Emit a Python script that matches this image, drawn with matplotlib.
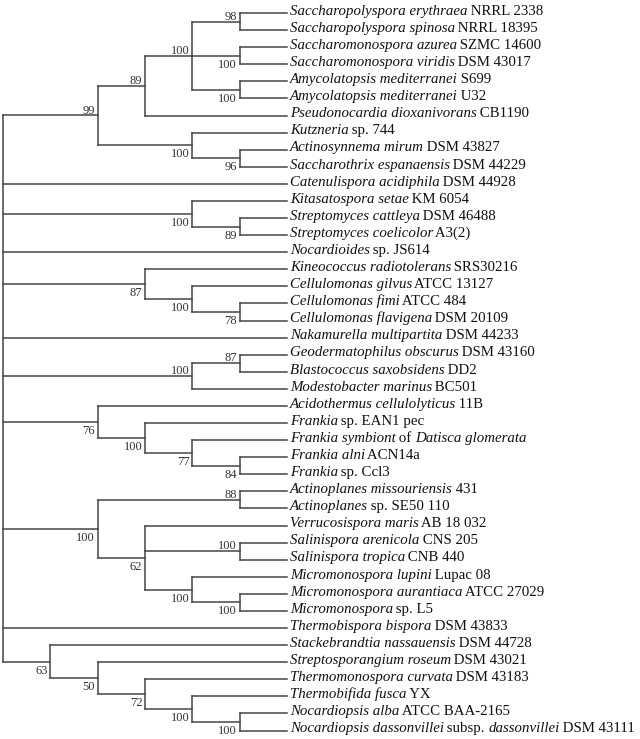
import matplotlib
matplotlib.use("Agg")
import matplotlib.pyplot as plt
from matplotlib.collections import LineCollection

# ---------------- data ----------------
# Leaf labels; text between *...* is italic
leaf_labels = [
    "*Saccharopolyspora erythraea* NRRL 2338",
    "*Saccharopolyspora spinosa* NRRL 18395",
    "*Saccharomonospora azurea* SZMC 14600",
    "*Saccharomonospora viridis* DSM 43017",
    "*Amycolatopsis mediterranei* S699",
    "*Amycolatopsis mediterranei* U32",
    "*Pseudonocardia dioxanivorans* CB1190",
    "*Kutzneria* sp. 744",
    "*Actinosynnema mirum* DSM 43827",
    "*Saccharothrix espanaensis* DSM 44229",
    "*Catenulispora acidiphila* DSM 44928",
    "*Kitasatospora setae* KM 6054",
    "*Streptomyces cattleya* DSM 46488",
    "*Streptomyces coelicolor* A3(2)",
    "*Nocardioides* sp. JS614",
    "*Kineococcus radiotolerans* SRS30216",
    "*Cellulomonas gilvus* ATCC 13127",
    "*Cellulomonas fimi* ATCC 484",
    "*Cellulomonas flavigena* DSM 20109",
    "*Nakamurella multipartita* DSM 44233",
    "*Geodermatophilus obscurus* DSM 43160",
    "*Blastococcus saxobsidens* DD2",
    "*Modestobacter marinus* BC501",
    "*Acidothermus cellulolyticus* 11B",
    "*Frankia* sp. EAN1 pec",
    "*Frankia symbiont* of *Datisca glomerata*",
    "*Frankia alni* ACN14a",
    "*Frankia* sp. Ccl3",
    "*Actinoplanes missouriensis* 431",
    "*Actinoplanes* sp. SE50 110",
    "*Verrucosispora maris* AB 18 032",
    "*Salinispora arenicola* CNS 205",
    "*Salinispora tropica* CNB 440",
    "*Micromonospora lupini* Lupac 08",
    "*Micromonospora aurantiaca* ATCC 27029",
    "*Micromonospora* sp. L5",
    "*Thermobispora bispora* DSM 43833",
    "*Stackebrandtia nassauensis* DSM 44728",
    "*Streptosporangium roseum* DSM 43021",
    "*Thermomonospora curvata* DSM 43183",
    "*Thermobifida fusca* YX",
    "*Nocardiopsis alba* ATCC BAA-2165",
    "*Nocardiopsis dassonvillei* subsp. *dassonvillei* DSM 43111",
]

# Topology (leaf indices) with bootstrap support values, Newick format
tree_newick = (
    "(((((0,1)98,(2,3)100,(4,5)100)100,6)89,(7,(8,9)96)100)99,10,"
    "(11,(12,13)89)100,14,(15,(16,(17,18)78)100)87,19,((20,21)87,22)100,"
    "(23,(24,(25,(26,27)84)77)100)76,"
    "((28,29)88,(30,(31,32)100,(33,(34,35)100)100)62)100,36,"
    "(37,(38,(39,(40,(41,42)100)100)72)50)63);"
)

# ---------------- layout / style ----------------
ABOVE_NODES = {0, 3, 4, 7, 13, 14, 19, 20}  # postorder index of nodes whose support sits above branch
X_TIP, X_ROOT = 287.0, 3.0
Y_FIRST, Y_LAST = 13.0, 730.5
LINE_COLOR = "#454545"
LW = 1.1
SERIF = ["Liberation Serif", "DejaVu Serif"]
LEAF_FS = 10.75
SUP_FS = 9.0


def parse_newick(s):
    pos = 0

    def node():
        nonlocal pos
        if s[pos] == "(":
            pos += 1
            children = [node()]
            while s[pos] == ",":
                pos += 1
                children.append(node())
            assert s[pos] == ")"
            pos += 1
            lab = ""
            while pos < len(s) and s[pos] not in ",);":
                lab += s[pos]
                pos += 1
            return {"children": children, "label": lab}
        lab = ""
        while s[pos] not in ",);":
            lab += s[pos]
            pos += 1
        return {"children": [], "leaf": int(lab)}

    return node()


root = parse_newick(tree_newick)
n_leaves = len(leaf_labels)
dy = (Y_LAST - Y_FIRST) / (n_leaves - 1)


def height(n):
    if not n["children"]:
        n["h"] = 0
    else:
        n["h"] = 1 + max(height(c) for c in n["children"])
    return n["h"]


root_h = height(root)
unit = (X_TIP - X_ROOT) / root_h

internal = []


def layout(n):
    n["x"] = X_TIP - unit * n["h"]
    if not n["children"]:
        n["y"] = Y_FIRST + dy * n["leaf"]
        return
    for c in n["children"]:
        layout(c)
    n["y"] = 0.5 * (n["children"][0]["y"] + n["children"][-1]["y"])
    internal.append(n)


layout(root)

fig = plt.figure(figsize=(6.40, 7.39), dpi=100)
ax = fig.add_axes([0, 0, 1, 1])
ax.set_xlim(0, 640)
ax.set_ylim(739, 0)
ax.axis("off")

segs = []
for n in internal:
    segs.append([(n["x"], n["children"][0]["y"]), (n["x"], n["children"][-1]["y"])])
    for c in n["children"]:
        segs.append([(n["x"], c["y"]), (c["x"], c["y"])])
ax.add_collection(LineCollection(segs, colors=LINE_COLOR, linewidths=LW, capstyle="projecting"))

# support values
for i, n in enumerate(internal):
    if not n.get("label"):
        continue
    if i in ABOVE_NODES:
        ax.text(n["x"] - 2.5, n["y"] - 2.0, n["label"], ha="right", va="baseline",
                fontsize=SUP_FS, family=SERIF, color="#333333")
    else:
        ax.text(n["x"] - 2.5, n["y"] + 12.0, n["label"], ha="right", va="baseline",
                fontsize=SUP_FS, family=SERIF, color="#333333")

# leaf labels (mixed italic / roman)
renderer = fig.canvas.get_renderer()
inv = ax.transData.inverted()
for i, lab in enumerate(leaf_labels):
    y = Y_FIRST + dy * i + 1.8
    x = X_TIP + 3.0
    parts = lab.split("*")
    for k, part in enumerate(parts):
        if not part:
            continue
        t = ax.text(x, y, part, ha="left", va="baseline", fontsize=LEAF_FS,
                    family=SERIF, style="italic" if k % 2 == 1 else "normal",
                    color="#111111")
        bb = t.get_window_extent(renderer)
        x = inv.transform((bb.x1, bb.y0))[0] - (0.8 if k % 2 == 1 else 0.0)

fig.savefig("out.png", dpi=100)
